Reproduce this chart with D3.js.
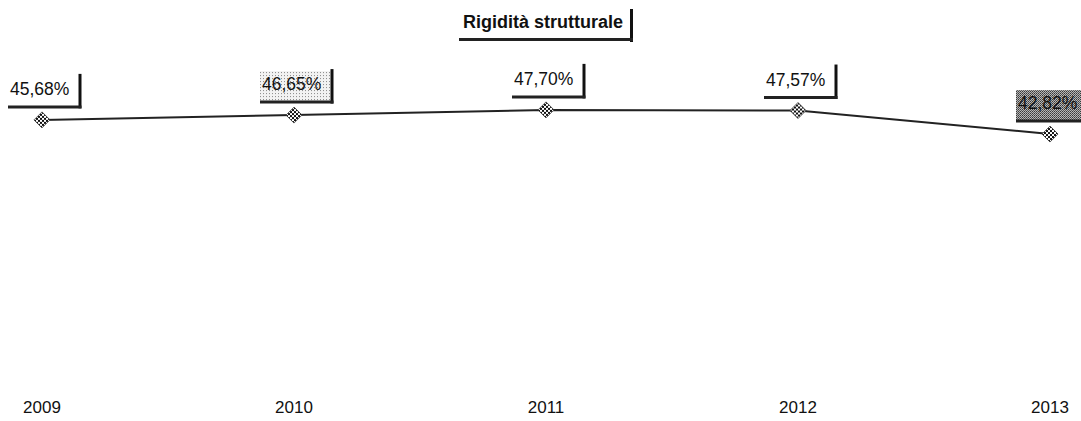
<!DOCTYPE html>
<html>
<head>
<meta charset="utf-8">
<style>
body { margin: 0; background: #fff; }
text { font-family: "Liberation Sans", Arial, sans-serif; fill: #111; }
</style>
</head>
<body>
<svg width="1081" height="421"></svg>
<script src="https://cdn.jsdelivr.net/npm/d3@7"></script>
<script>
var years = ["2009", "2010", "2011", "2012", "2013"];
var values = [45.68, 46.65, 47.70, 47.57, 42.82];
var labels = ["45,68%", "46,65%", "47,70%", "47,57%", "42,82%"];
var labelFill = ["#fff", "url(#dots)", "#fff", "#fff", "url(#hatch)"];

var svg = d3.select("svg");

var defs = svg.append("defs");
var checker = defs.append("pattern").attr("id", "checker")
    .attr("width", 4).attr("height", 4).attr("patternUnits", "userSpaceOnUse");
checker.append("rect").attr("width", 4).attr("height", 4).attr("fill", "#fff");
checker.append("rect").attr("width", 2).attr("height", 2).attr("fill", "#111");
checker.append("rect").attr("x", 2).attr("y", 2).attr("width", 2).attr("height", 2).attr("fill", "#111");

var dots = defs.append("pattern").attr("id", "dots")
    .attr("width", 3).attr("height", 3).attr("patternUnits", "userSpaceOnUse");
dots.append("rect").attr("width", 3).attr("height", 3).attr("fill", "#f2f2f2");
dots.append("rect").attr("width", 1).attr("height", 1).attr("fill", "#888");

var hatch = defs.append("pattern").attr("id", "hatch")
    .attr("width", 2).attr("height", 2).attr("patternUnits", "userSpaceOnUse");
hatch.append("rect").attr("width", 2).attr("height", 2).attr("fill", "#bbb");
hatch.append("rect").attr("width", 1).attr("height", 1).attr("fill", "#333");
hatch.append("rect").attr("x", 1).attr("y", 1).attr("width", 1).attr("height", 1).attr("fill", "#555");

var x = d3.scalePoint().domain(years).range([42, 1050]);
var y = d3.scaleLinear().domain([0, 50]).range([346, 98.5]);

// title
var tg = svg.append("g");
tg.append("rect").attr("x", 458).attr("y", 6).attr("width", 172).attr("height", 33).attr("fill", "#fff");
tg.append("line").attr("x1", 631.5).attr("x2", 631.5).attr("y1", 9).attr("y2", 42)
    .attr("stroke", "#111").attr("stroke-width", 3);
tg.append("line").attr("x1", 459).attr("x2", 633).attr("y1", 39.5).attr("y2", 39.5)
    .attr("stroke", "#222").attr("stroke-width", 3);
tg.append("text").attr("x", 543).attr("y", 28).attr("text-anchor", "middle")
    .style("font-weight", "bold").style("font-size", "18px")
    .text("Rigidità strutturale");

// line
var line = d3.line()
    .x(function(d, i) { return x(years[i]); })
    .y(function(d) { return y(d); });
svg.append("path").datum(values)
    .attr("d", line)
    .attr("fill", "none")
    .attr("stroke", "#222")
    .attr("stroke-width", 2);

// markers
svg.selectAll(".pt")
  .data(values)
  .enter().append("path")
    .attr("class", "pt")
    .attr("transform", function(d, i) { return "translate(" + x(years[i]) + "," + y(d) + ")"; })
    .attr("d", "M0,-8L8,0L0,8L-8,0Z")
    .attr("fill", "url(#checker)")
    .attr("stroke", "#333")
    .attr("stroke-width", 0.8);

// value labels
var lab = svg.selectAll(".lab")
  .data(values)
  .enter().append("g")
    .attr("class", "lab")
    .attr("transform", function(d, i) { return "translate(" + (x(years[i]) - 34) + "," + (y(d) - 13) + ")"; });
lab.append("rect")
    .attr("x", 0).attr("y", -31).attr("width", 72).attr("height", 31)
    .attr("fill", function(d, i) { return labelFill[i]; });
lab.append("line").attr("x1", 72).attr("x2", 72).attr("y1", -33).attr("y2", 1.5)
    .attr("stroke", "#111").attr("stroke-width", 3);
lab.append("line").attr("x1", 0).attr("x2", 73.5).attr("y1", 0).attr("y2", 0)
    .attr("stroke", "#222").attr("stroke-width", 3);
lab.append("text")
    .attr("x", 2).attr("y", -12)
    .style("font-size", "17.5px")
    .text(function(d, i) { return labels[i]; });

// x axis labels
svg.selectAll(".yr")
  .data(years)
  .enter().append("text")
    .attr("class", "yr")
    .attr("x", function(d) { return x(d); })
    .attr("y", 413)
    .attr("text-anchor", "middle")
    .style("font-size", "17px")
    .text(function(d) { return d; });
</script>
</body>
</html>
